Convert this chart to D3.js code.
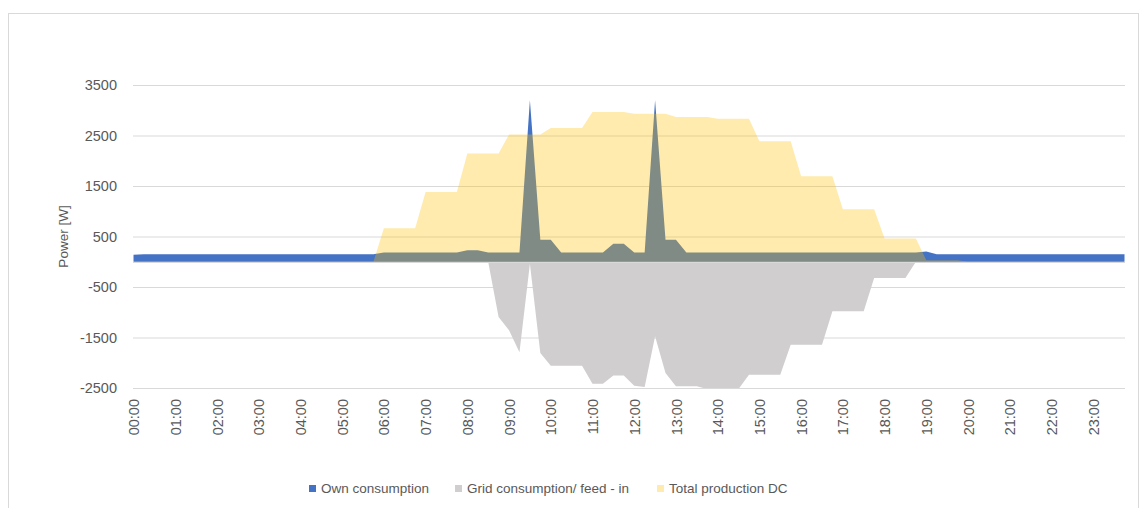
<!DOCTYPE html>
<html>
<head>
<meta charset="utf-8">
<script src="https://cdn.jsdelivr.net/npm/d3@7"></script>
<style>
	body { margin: 0; background: #fff; }
	svg { display: block; font-family: "Liberation Sans", Arial, sans-serif; }
	.tick text { fill: #595959; }
</style>
</head>
<body>
<div id="chart"></div>
<script>
// 15-minute readings over one day (96 points)
const ownConsumption = [
	140, 150, 150, 150, 150, 150, 150, 150, 150, 150, 150, 150, 150, 150, 150, 150,
	150, 150, 150, 150, 150, 150, 150, 150, 185, 185, 185, 185, 185, 185, 185, 185,
	230, 230, 185, 185, 185, 185, 3196, 437, 437, 185, 185, 185, 185, 185, 358, 358,
	185, 185, 3196, 437, 437, 185, 185, 185, 185, 185, 185, 185, 185, 185, 185, 185,
	185, 185, 185, 185, 185, 185, 185, 185, 185, 185, 185, 185, 205, 150, 150, 150,
	150, 150, 150, 150, 150, 150, 150, 150, 150, 150, 150, 150, 150, 150, 150, 150
];
const gridFeedIn = [
	0, 0, 0, 0, 0, 0, 0, 0, 0, 0, 0, 0, 0, 0, 0, 0,
	0, 0, 0, 0, 0, 0, 0, 0, 0, 0, 0, 0, 0, 0, 0, 0,
	0, 0, 0, -1095, -1358, -1794, -40, -1808, -2058, -2058, -2058, -2058, -2414, -2414, -2250, -2250,
	-2455, -2480, -1477, -2204, -2467, -2467, -2467, -2520, -2520, -2520, -2520, -2236, -2236, -2236, -2236, -1643,
	-1643, -1643, -1643, -982, -982, -982, -982, -320, -320, -320, -320, 0, 0, 0, 0, 0,
	0, 0, 0, 0, 0, 0, 0, 0, 0, 0, 0, 0, 0, 0, 0, 0
];
const productionDC = [
	0, 0, 0, 0, 0, 0, 0, 0, 0, 0, 0, 0, 0, 0, 0, 0,
	0, 0, 0, 0, 0, 0, 0, 0, 663, 663, 663, 663, 1380, 1380, 1380, 1380,
	2142, 2142, 2142, 2142, 2518, 2518, 2518, 2518, 2650, 2650, 2650, 2650, 2966, 2966, 2966, 2966,
	2933, 2933, 2933, 2933, 2868, 2868, 2868, 2868, 2834, 2834, 2834, 2834, 2386, 2386, 2386, 2386,
	1695, 1695, 1695, 1695, 1038, 1038, 1038, 1038, 460, 460, 460, 460, 30, 30, 30, 30,
	0, 0, 0, 0, 0, 0, 0, 0, 0, 0, 0, 0, 0, 0, 0, 0
];
const yTicks = [-2500, -1500, -500, 500, 1500, 2500, 3500];
const seriesNames = ['Own consumption', 'Grid consumption/ feed - in', 'Total production DC'];

const times = d3.range(96).map(i => `${String(Math.floor(i / 4)).padStart(2, '0')}:${String((i % 4) * 15).padStart(2, '0')}`);
const hourLabels = times.filter((t, i) => i % 4 === 0);

const W = 1146, H = 508;
const margin = { top: 85, right: 21, bottom: 120, left: 133 },
	width = W - margin.left - margin.right,
	height = H - margin.top - margin.bottom;

const svg = d3.select('#chart').append('svg').attr('width', W).attr('height', H);

// chart frame
svg.append('rect')
	.attr('x', 8.5).attr('y', 13.5).attr('width', 1130).attr('height', 520)
	.attr('fill', 'none').attr('stroke', '#d9d9d9');

const g = svg.append('g').attr('transform', `translate(${margin.left}, ${margin.top})`);

const x = d3.scalePoint().domain(times).range([0.5, width - 0.5]);
const y = d3.scaleLinear().domain([-2500, 3500]).range([height, 0]);

// gridlines
g.append('g')
	.call(d3.axisLeft(y).tickValues(yTicks).tickSize(-width).tickFormat(''))
	.call(g => g.select('.domain').remove())
	.call(g => g.selectAll('.tick line').attr('stroke', '#d9d9d9'));

g.append('defs').append('clipPath').attr('id', 'plot-clip')
	.append('rect').attr('x', 0).attr('y', 0).attr('width', width).attr('height', height);

const colors = ['#4472C4', '#D0CECE', '#FFC000'];
const opacities = [1, 1, 0.32];

const area = (vals) => d3.area()
	.x((d, i) => x(times[i]))
	.y0(y(0))
	.y1(d => y(d))(vals);

const plot = g.append('g').attr('clip-path', 'url(#plot-clip)');
// grid drawn behind, own consumption, then translucent production on top
[[gridFeedIn, 1], [ownConsumption, 0], [productionDC, 2]].forEach(([vals, k]) => {
	plot.append('path')
		.attr('d', area(vals))
		.attr('fill', colors[k])
		.attr('fill-opacity', opacities[k]);
});

// horizontal axis line at zero
g.append('line')
	.attr('x1', 0).attr('x2', width)
	.attr('y1', Math.round(y(0)) + 0.5).attr('y2', Math.round(y(0)) + 0.5)
	.attr('stroke', '#d9d9d9');

// y axis labels
g.append('g')
	.call(d3.axisLeft(y).tickValues(yTicks).tickSize(0).tickPadding(16).tickFormat(d => String(d)))
	.call(g => g.select('.domain').remove())
	.call(g => g.selectAll('.tick text').style('font-size', '14.5px'));

// x axis labels, rotated
g.append('g')
	.attr('transform', `translate(0, ${height + 6})`)
	.call(d3.axisBottom(x).tickValues(hourLabels).tickSize(0))
	.call(g => g.select('.domain').remove())
	.call(g => g.selectAll('.tick text')
		.style('font-size', '14.5px')
		.attr('text-anchor', 'end')
		.attr('x', -5).attr('y', 0).attr('dy', '0.35em')
		.attr('transform', 'rotate(-90)'));

svg.append('text')
	.attr('transform', `translate(68, ${margin.top + height / 2}) rotate(-90)`)
	.attr('text-anchor', 'middle')
	.style('font-size', '13.5px')
	.attr('fill', '#595959')
	.text('Power [W]');

// legend
const legendX = [309, 455, 657];
const legend = svg.append('g').selectAll('g')
	.data(seriesNames)
	.enter()
	.append('g')
	.attr('transform', (d, i) => `translate(${legendX[i]}, 485)`);
legend.append('rect')
	.attr('width', 7).attr('height', 7)
	.attr('fill', (d, i) => colors[i])
	.attr('fill-opacity', (d, i) => opacities[i]);
legend.append('text')
	.attr('x', 12).attr('y', 3.5).attr('dy', '0.35em')
	.style('font-size', '13.5px')
	.attr('fill', '#595959')
	.text(d => d);
</script>
</body>
</html>
